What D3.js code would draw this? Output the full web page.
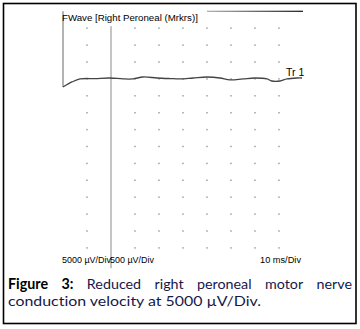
<!DOCTYPE html>
<html>
<head>
<meta charset="utf-8">
<script src="https://cdn.jsdelivr.net/npm/d3@7"></script>
<style>
  html, body { margin: 0; padding: 0; background: #fff; }
  svg { display: block; }
  text { font-variant-ligatures: none; }
</style>
</head>
<body>
<svg id="chart" width="360" height="329"></svg>
<script>
// ---- data ----
const traceTimes = [0, 3.75, 7.1, 13.3, 19.6, 25, 29.2, 33.3, 39.2, 44.6, 48.75, 54.2, 60, 65.4, 69.6, 75, 80, 85, 87, 90.4, 93.3, 97.5, 99.6]; // ms
const traceValues = [-2400, -900, 0, 100, 270, 0, 0, 560, 270, 100, 0, 270, 560, 270, -300, 0, 270, 0, -620, -620, 0, 270, 270]; // µV
const gridTimes = [10, 30, 40, 50, 60, 70, 80, 90]; // ms (20 ms hidden by cursor)
const gridLevels = [15000, 10000, 5000, 0, -5000, -10000, -15000, -20000, -25000, -30000, -35000, -40000, -45000, -50000]; // µV
const stimTime = 0, stimTop = 20000;          // stimulus marker
const cursorTime = 20, cursorTop = 15600, cursorBottom = -56000;
const markerStart = 60, markerEnd = 100, markerLevel = 20000;
const titleText = "FWave [Right Peroneal (Mrkrs)]";
const traceLabel = "Tr 1";
const sensLabels = ["5000 µV/Div", "500 µV/Div"];
const sweepLabel = "10 ms/Div";
const captionBold = ["Figure", "3:"];
const captionLine1 = ["Reduced", "right", "peroneal", "motor", "nerve"];
const captionLine2 = "conduction velocity at 5000 µV/Div.";

// ---- scales ----
const x = d3.scaleLinear().domain([0, 100]).range([63, 303]);
const y = d3.scaleLinear().domain([-55000, 20000]).range([264.8, 11.3]);

const svg = d3.select("#chart");

// outer frame
svg.append("rect").attr("x", 3.5).attr("y", 3.5).attr("width", 352.5).attr("height", 320)
  .attr("fill", "none").attr("stroke", "#000").attr("stroke-width", 1.6);

// grid dots
const dots = [];
gridTimes.forEach(t => gridLevels.forEach(v => dots.push([t, v])));
svg.append("g").selectAll("rect").data(dots).join("rect")
  .attr("x", d => x(d[0]) - 0.75).attr("y", d => y(d[1]) - 0.75)
  .attr("width", 1.5).attr("height", 1.5).attr("fill", "#a0a0a0");

// cursor
svg.append("line").attr("x1", x(cursorTime)).attr("x2", x(cursorTime))
  .attr("y1", y(cursorTop)).attr("y2", y(cursorBottom))
  .attr("stroke", "#8a8a8a").attr("stroke-width", 1);

// stimulus marker
svg.append("line").attr("x1", x(stimTime)).attr("x2", x(stimTime))
  .attr("y1", y(stimTop)).attr("y2", y(traceValues[0]))
  .attr("stroke", "#666").attr("stroke-width", 1);

// top marker line
const grad = svg.append("defs").append("linearGradient").attr("id", "mk");
grad.append("stop").attr("offset", "0%").attr("stop-color", "#aaa");
grad.append("stop").attr("offset", "100%").attr("stop-color", "#111");
svg.append("rect").attr("x", x(markerStart)).attr("y", y(markerLevel) - 0.6)
  .attr("width", x(markerEnd) - x(markerStart)).attr("height", 1.2).attr("fill", "url(#mk)");

// trace
const line = d3.line().x((d, i) => x(traceTimes[i])).y(d => y(d)).curve(d3.curveCatmullRom);
svg.append("path").datum(traceValues).attr("d", line)
  .attr("fill", "none").attr("stroke", "#444").attr("stroke-width", 1.3);

// chart texts
const chartFont = "Liberation Sans, Arial, sans-serif";
svg.append("text").attr("x", 62).attr("y", 21).text(titleText)
  .attr("font-family", chartFont).attr("font-size", 9.7).attr("fill", "#000");
svg.append("text").attr("x", 286).attr("y", 76).text(traceLabel)
  .attr("font-family", chartFont).attr("font-size", 10.5).attr("fill", "#000");
svg.append("text").attr("x", 62).attr("y", 263).text(sensLabels[0])
  .attr("font-family", chartFont).attr("font-size", 8.5).attr("fill", "#000")
  .attr("textLength", 49).attr("lengthAdjust", "spacingAndGlyphs");
svg.append("text").attr("x", 110).attr("y", 263).text(sensLabels[1])
  .attr("font-family", chartFont).attr("font-size", 8.5).attr("fill", "#000")
  .attr("textLength", 44).attr("lengthAdjust", "spacingAndGlyphs");
svg.append("text").attr("x", 260).attr("y", 263).text(sweepLabel)
  .attr("font-family", chartFont).attr("font-size", 8.5).attr("fill", "#000")
  .attr("textLength", 41).attr("lengthAdjust", "spacingAndGlyphs");

// caption
const capFont = "Lato, 'Open Sans', sans-serif";
const capSize = 14.3;
const capColor = "#16184a";
const line1 = svg.append("g");
const words = [];
captionBold.forEach(w => words.push({w, bold: true}));
captionLine1.forEach(w => words.push({w, bold: false}));
const nodes = words.map(d => line1.append("text").text(d.w)
  .attr("y", 289).attr("font-family", capFont).attr("font-size", capSize)
  .attr("font-weight", d.bold ? "bold" : "normal").attr("fill", d.bold ? "#000" : capColor));
const widths = nodes.map(n => n.node().getComputedTextLength());
const left = 8, right = 352;
const gap = (right - left - d3.sum(widths)) / (nodes.length - 1);
let cx = left;
nodes.forEach((n, i) => { n.attr("x", cx); cx += widths[i] + gap; });
svg.append("text").attr("x", 8).attr("y", 306).text(captionLine2)
  .attr("font-family", capFont).attr("font-size", capSize).attr("fill", capColor)
  .attr("textLength", 253).attr("lengthAdjust", "spacingAndGlyphs");
</script>
</body>
</html>
